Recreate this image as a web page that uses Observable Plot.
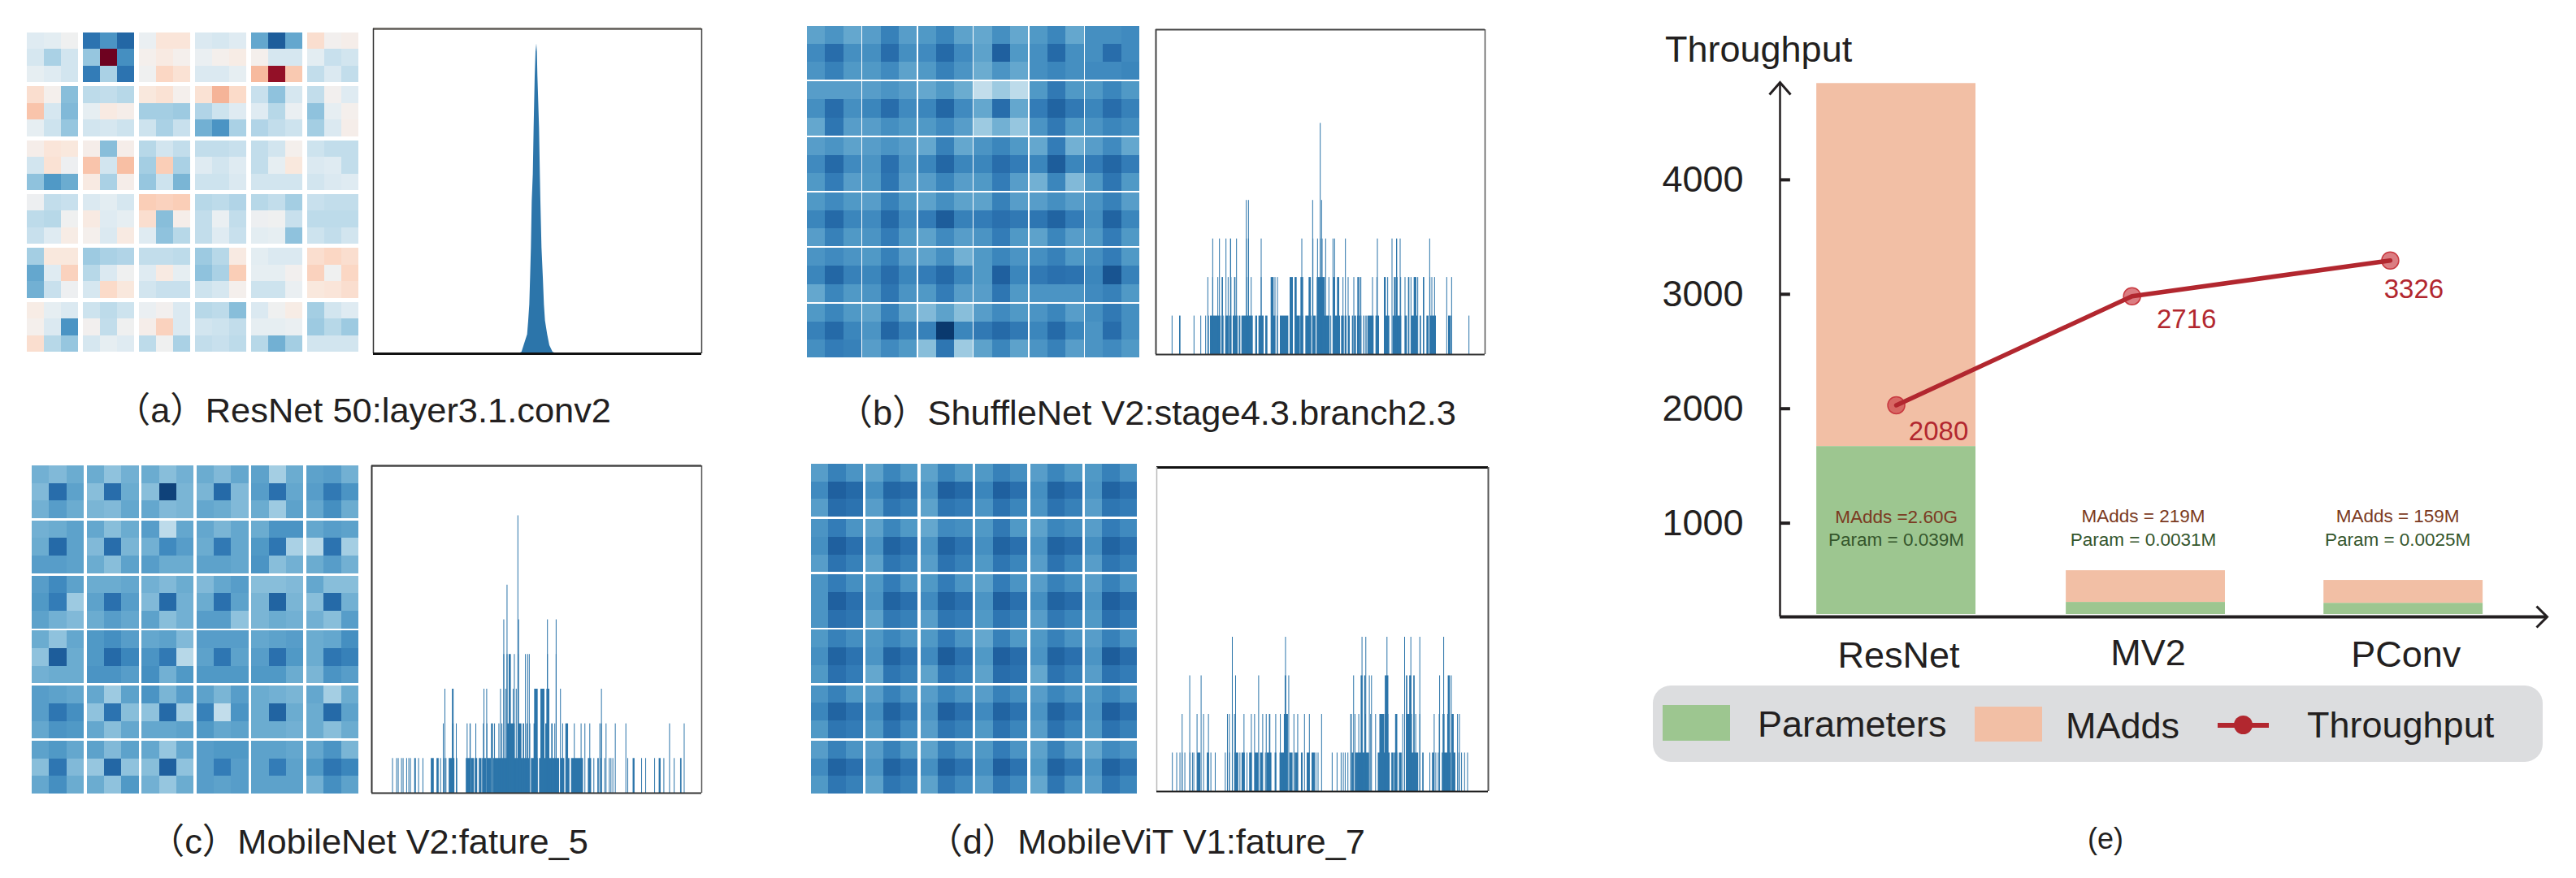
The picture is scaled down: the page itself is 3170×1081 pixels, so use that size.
<!DOCTYPE html>
<html>
<head>
<meta charset="utf-8">
<script src="https://cdn.jsdelivr.net/npm/d3@7"></script>
<script src="https://cdn.jsdelivr.net/npm/@observablehq/plot@0.6"></script>
<style>
html,body{margin:0;padding:0;background:#fff;}
#page{position:relative;width:3170px;height:1081px;overflow:hidden;font-family:"Liberation Sans","Noto Sans CJK SC",sans-serif;color:#231f20;}
#page>div{position:absolute;white-space:nowrap;}
.cap{font-size:43.4px;line-height:1;}
</style>
</head>
<body>
<div id="page"></div>
<script>
// ---------- heatmap values (0 = red, 50 = neutral, 100 = blue) ----------
const heatA = [
[56,55,51,88,80,92,53,44,44,57,58,56,76,95,76,42,50,48],
[58,66,59,69,1,81,49,46,49,53,49,47,49,58,58,55,61,59],
[54,56,59,85,66,88,51,40,43,57,57,54,34,6,37,62,57,62],
[42,49,71,63,62,64,45,43,49,43,33,41,61,70,58,62,50,56],
[36,58,72,54,46,48,67,67,68,65,60,56,56,64,53,70,54,49],
[54,60,69,59,58,60,60,66,61,74,80,66,65,62,60,67,57,48],
[48,44,45,48,71,48,64,59,62,62,62,61,62,59,49,60,62,62],
[59,43,52,36,59,35,67,38,66,56,59,56,62,54,45,57,56,62],
[70,79,75,46,66,48,69,60,73,60,60,57,59,59,59,59,57,56],
[52,62,61,57,55,58,38,39,38,64,63,65,64,62,67,61,62,62],
[63,64,51,46,56,54,42,71,48,62,53,62,52,51,61,63,63,63],
[61,56,47,49,57,46,56,70,64,62,56,61,55,54,70,60,62,59],
[67,45,45,68,66,65,62,62,63,68,64,46,55,57,57,42,40,42],
[76,56,39,64,57,51,56,46,54,70,66,38,54,54,50,39,51,40],
[74,61,52,58,41,45,59,61,61,60,58,49,60,60,53,45,44,42],
[47,54,57,60,63,60,53,50,57,64,63,71,57,51,47,67,59,56],
[49,57,80,50,62,51,48,39,57,59,60,62,54,54,53,68,64,68],
[42,64,69,58,54,56,63,51,66,62,61,63,64,74,67,59,59,59]];
const heatB = [
[77,80,76,78,84,78,79,83,77,76,81,76,79,83,76,81,81,82],
[82,90,81,81,90,81,82,91,82,77,94,79,81,91,81,81,90,82],
[80,84,79,79,82,77,79,84,80,75,80,76,81,83,81,82,82,83],
[78,78,78,78,80,78,76,79,75,62,68,63,79,86,79,79,83,79],
[81,90,81,83,90,82,83,92,82,76,90,76,85,93,86,83,90,84],
[76,87,78,78,81,79,79,82,78,68,74,69,80,86,79,80,83,81],
[78,80,77,78,80,78,76,84,76,80,83,79,76,85,74,78,82,76],
[82,91,82,80,89,80,83,92,83,83,90,85,83,95,83,85,92,85],
[79,85,78,79,87,78,78,83,78,79,85,78,74,83,72,79,87,79],
[79,82,79,78,84,79,77,81,77,77,84,78,78,81,78,80,84,78],
[83,91,83,82,91,82,85,95,84,85,89,86,87,93,85,81,93,83],
[78,84,79,80,85,79,77,82,78,80,85,79,77,83,78,79,85,79],
[80,82,80,79,84,78,77,81,74,79,83,80,81,84,79,81,85,79],
[83,92,84,83,90,83,85,91,83,79,94,83,86,89,88,83,96,84],
[76,83,79,80,87,80,79,85,78,78,87,79,80,80,80,82,84,79],
[79,83,79,77,84,77,72,77,71,78,82,79,80,83,78,81,86,81],
[84,91,83,80,92,84,84,99,83,86,91,86,83,91,83,80,90,81],
[81,85,84,78,82,79,71,87,68,77,83,77,80,84,78,80,82,79]];
const heatC = [
[74,72,75,75,70,74,75,71,74,75,72,76,77,67,75,77,78,74],
[72,90,77,71,90,75,71,98,73,73,91,72,78,89,76,78,86,80],
[74,78,75,73,72,76,76,72,73,76,75,72,75,68,77,76,81,75],
[74,75,77,76,71,75,78,63,76,76,73,76,75,80,80,76,78,77],
[75,91,77,72,90,73,74,82,78,75,86,76,79,87,66,64,88,67],
[78,78,77,75,71,77,78,75,75,77,77,76,80,71,74,75,78,74],
[78,82,77,75,75,76,74,72,75,72,76,78,71,71,72,76,71,71],
[79,85,68,77,89,78,72,91,74,75,89,77,73,93,73,71,91,74],
[77,74,72,75,78,76,77,71,74,78,78,70,73,75,74,74,71,78],
[75,70,76,79,81,78,76,77,72,78,78,78,76,77,78,75,76,81],
[70,95,75,79,91,83,80,86,64,77,87,77,78,89,79,75,87,84],
[74,75,75,80,80,78,81,74,79,79,79,79,79,79,75,73,80,78],
[78,77,76,76,68,77,80,73,78,77,73,78,75,74,73,76,67,75],
[78,87,81,70,88,71,70,91,67,84,62,80,75,93,75,75,91,77],
[76,80,79,76,71,76,76,76,77,79,76,77,75,75,74,75,71,75],
[77,79,76,77,72,77,76,69,76,78,79,79,77,77,76,76,80,73],
[71,87,72,69,92,70,71,94,70,78,85,78,77,85,77,79,87,83],
[76,81,75,75,70,79,74,69,75,78,77,78,77,77,77,74,81,77]];
const heatD = [
[78,84,80,77,83,79,77,83,79,79,84,81,78,83,79,79,84,80],
[82,94,91,81,92,90,80,94,91,83,94,89,81,93,89,80,93,89],
[78,90,88,78,87,84,77,87,85,80,88,83,80,88,84,78,87,85],
[80,85,80,77,83,79,76,82,81,79,86,79,77,83,81,78,85,82],
[81,94,89,80,93,89,80,93,88,81,93,89,80,93,90,81,93,89],
[78,88,84,77,87,84,78,88,84,79,87,83,78,88,83,78,87,84],
[80,85,81,79,85,80,79,85,80,77,85,80,78,84,81,78,84,80],
[80,94,89,80,93,89,82,93,89,80,94,89,81,93,90,80,94,90],
[80,89,87,77,86,84,78,87,85,79,87,84,78,86,83,79,89,85],
[79,84,81,79,83,80,79,85,80,76,84,79,79,84,80,78,84,80],
[81,93,88,80,93,88,82,95,88,79,94,90,80,93,89,80,95,90],
[79,89,85,76,87,84,77,87,84,77,90,88,76,88,84,78,88,85],
[80,84,79,78,84,80,78,83,80,78,84,81,78,83,80,79,83,80],
[83,93,88,81,93,87,80,94,89,82,93,88,80,93,87,80,94,89],
[79,87,85,79,88,82,78,87,84,79,88,83,78,88,83,79,88,84],
[78,84,80,78,84,79,77,84,80,79,85,80,77,84,78,76,82,80],
[82,93,89,80,93,88,81,93,88,81,94,88,79,93,87,80,93,88],
[79,87,84,77,87,84,77,86,82,78,86,82,76,87,80,78,87,83]];

// ---------- histogram (a): bin position and count ----------
const histABins   = [112,125,133,146,150,154,157,160,163,167,170,174,177,180,182,184,190,193,195,199,204,208,212,220,228,240,255];
const histACounts = [0,5,30,70,120,180,280,390,560,660,830,1020,1110,1141,1110,1020,830,660,560,390,280,180,120,70,30,5,0];

// ---------- histogram bins reaching each count: a number is one bin, a pair is a run of bins ----------
const bCount1 = [66,[92,97],147,172,190,[198,202],[206,245],[248,256],[262,274],[276,285],[290,308],[312,318],[322,364],[373,380],[385,404],[410,418],[431,447],[452,456],[464,495],[500,510],[518,538],[540,550],[558,580],[585,596],[600,648],652,[660,686],[690,700],[703,710],[716,722],[730,735],[738,745],[749,760],[762,765],[772,776],[780,784],[787,810],[817,830],[852,868],[880,893],[896,912],[925,933],[948,960],[966,972],[980,985],[1005,1013],[1018,1040],[1085,1095],1098,1162];
const bCount2 = [198,216,235,[249,254],273,[281,285],[295,300],340,348,358,395,[430,441],446,455,[500,512],[518,526],[540,550],[570,578],585,[600,630],645,[660,668],[675,683],697,716,737,[750,755],758,763,806,822,[848,855],862,[885,892],897,910,926,[937,942],948,[958,968],973,[992,997],1018,1025,1035,1080,1098];
const bCount3 = [216,241,265,[280,284],304,340,348,395,545,586,603,613,620,633,660,666,706,824,878,[893,897],908,1017];
const bCount4 = [340,348,585,618];
const bCount6 = [613];

const cCount1 = [100,115,121,133,139,152,160,166,[180,186],196,212,[241,252],[262,270],277,[286,290],297,[307,328],337,[370,385],[388,400],[403,412],[418,428],[430,445],[447,463],[470,605],[610,635],[640,650],[655,714],[718,733],[738,752],[758,802],[820,832],842,[855,860],868,882,899,905,912,967,[985,992],1018,1033,1066,[1081,1088],1100,1138,[1160,1165]];
const cCount2 = [287,[320,325],335,375,[384,388],407,435,448,[463,470],476,492,503,[522,550],[562,575],[580,585],595,606,[620,628],[663,670],[685,690],698,727,[737,747],770,795,809,827,864,870,887,921,960,1121,1175];
const cCount3 = [293,[319,325],437,447,498,517,545,556,[622,635],[645,660],[667,678],719,870];
const cCount4 = [510,522,[528,536],549,563,590,598,604,671,703];
const cCount5 = [510,[562,566],671,703];
const cCount6 = [522];
const cCount8 = [562];

const dCount1 = [69,85,97,105,115,134,143,148,[160,172],[196,204],211,227,264,272,279,290,[298,312],318,[324,336],344,[352,362],[372,386],[392,402],412,[416,434],[446,452],[464,490],[500,512],[520,532],[543,549],[564,575],[582,594],598,606,658,676,691,699,706,716,[730,737],[744,794],[826,840],[846,870],[876,884],[886,898],[904,914],[930,975],[990,995],1018,[1026,1034],1040,1049,[1062,1095],[1100,1112],1125,1135,1146,1157];
const dCount2 = [105,160,184,202,272,279,290,298,333,360,372,402,415,[425,430],450,467,[480,495],517,531,556,574,619,[725,730],742,756,[778,782],800,818,[832,850],[852,865],[890,898],918,[930,952],966,981,1034,[1051,1054],[1065,1072],[1082,1088],[1098,1106],1120,1127];
const dCount3 = [133,175,290,302,387,[483,488],498,737,[763,770],[776,781],795,803,[852,865],925,[930,935],[942,950],[957,962],1054,[1084,1092],1097];
const dCount4 = [290,486,768,782,860,925,948,981,1069];

// ---------- bar and line chart (e) ----------
const models      = ["ResNet","MV2","PConv"];
const barBase     = 202;
const paramTops   = [1670,308,300];
const maddTops    = [4842,585,500];
const linePoints  = [2030,2983,3295];
const lineLabels  = ["2080","2716","3326"];
const maddNotes   = ["MAdds =2.60G","MAdds = 219M","MAdds = 159M"];
const paramNotes  = ["Param = 0.039M","Param = 0.0031M","Param = 0.0025M"];
const yTickValues = [1000,2000,3000,4000];
const legendNames = ["Parameters","MAdds","Throughput"];

const colorParam = "#9dc690", colorMadd = "#f2bfa5", colorLine = "#b2272f", ink = "#231f20";
const page = document.getElementById("page");
const FONT = '"Liberation Sans","Noto Sans CJK SC",sans-serif';

function place(node, left, top) {
  const box = document.createElement("div");
  box.style.left = left + "px"; box.style.top = top + "px";
  box.appendChild(node); page.appendChild(box);
}
function label(text, opts) {
  const el = document.createElement("div");
  el.textContent = text;
  Object.assign(el.style, opts);
  page.appendChild(el);
  return el;
}
// The reference's dark blues stay softer than a plain RdBu ramp until the very top.
function softRdBu(t) {
  const u = t <= 0.85 ? t : t <= 0.95 ? 0.85 + (t - 0.85) * 0.65 : 0.915 + (t - 0.95) * 1.7;
  return d3.interpolateRdBu(u);
}
function heatmap(rows, left, top, width, height, gapX, gapY) {
  const cells = rows.flatMap((row, i) => row.map((v, j) => ({
    v, x: j + Math.floor(j / 3) * gapX, y: i + Math.floor(i / 3) * gapY
  })));
  place(Plot.plot({
    width, height, margin: 0,
    style: {background: "transparent"},
    x: {axis: null, domain: [0, 18 + 5 * gapX]},
    y: {axis: null, domain: [18 + 5 * gapY, 0]},
    color: {type: "linear", domain: [0, 100], interpolate: softRdBu},
    marks: [Plot.rect(cells, {x1: "x", x2: d => d.x + 1, y1: "y", y2: d => d.y + 1, fill: "v", shapeRendering: "crispEdges"})]
  }), left, top);
}
function bars(levels) {
  return levels.flatMap(([count, list]) => list.map(s => Array.isArray(s)
    ? {x1: s[0], x2: s[1], count}
    : {x1: s - 1.5, x2: s + 1.5, count}));
}
function frameMarks(domainX, yTop, f) {
  return [
    Plot.ruleY([yTop], {stroke: f.top[0], strokeWidth: f.top[1]}),
    Plot.ruleX([domainX[1]], {stroke: f.right[0], strokeWidth: f.right[1]}),
    Plot.ruleX([domainX[0]], {stroke: f.left[0], strokeWidth: f.left[1]}),
    Plot.ruleY([0], {stroke: f.bottom[0], strokeWidth: f.bottom[1]})
  ];
}
function histogram(levels, domainX, yTop, left, top, width, height, f) {
  place(Plot.plot({
    width, height, margin: 0,
    style: {background: "transparent", overflow: "visible"},
    x: {axis: null, domain: domainX},
    y: {axis: null, domain: [0, yTop]},
    marks: [
      Plot.rect(bars(levels), {x1: "x1", x2: "x2", y1: 0, y2: "count", fill: "#2c75aa"}),
      ...frameMarks(domainX, yTop, f)
    ]
  }), left, top);
}

// Panel (a)
heatmap(heatA, 33, 40, 408, 393, 0.26, 0.245);
place(Plot.plot({
  width: 404, height: 400, margin: 0,
  style: {background: "transparent", overflow: "visible"},
  x: {axis: null, domain: [-423, 789]},
  y: {axis: null, domain: [0, 1196]},
  marks: [
    Plot.areaY(histABins.map((x, i) => ({x, c: histACounts[i]})), {x: "x", y: "c", fill: "#2c75aa"}),
    ...frameMarks([-423, 789], 1196, {top: ["#5e5a55", 2.5], right: ["#444", 1.5], left: ["#333", 1.5], bottom: ["#111", 3]})
  ]
}), 459, 35);

// Panel (b)
heatmap(heatB, 993, 32, 409, 408, 0.07, 0.09);
histogram([[1, bCount1], [2, bCount2], [3, bCount3], [4, bCount4], [6, bCount6]], [5, 1220], 8.43, 1422, 36, 405, 400,
  {top: ["#444", 2], right: ["#555", 1.5], left: ["#444", 2], bottom: ["#333", 2]});

// Panel (c)
heatmap(heatC, 39, 573, 402, 404, 0.14, 0.115);
histogram([[1, cCount1], [2, cCount2], [3, cCount3], [4, cCount4], [5, cCount5], [6, cCount6], [8, cCount8]], [22, 1238], 9.44, 457, 573, 406, 403,
  {top: ["#444", 2.5], right: ["#555", 1.5], left: ["#333", 2], bottom: ["#333", 2]});

// Panel (d)
heatmap(heatD, 998, 571, 401, 406, 0.17, 0.135);
histogram([[1, dCount1], [2, dCount2], [3, dCount3], [4, dCount4]], [10, 1232], 8.4, 1423, 575, 408, 399,
  {top: ["#111", 3], right: ["#555", 2], left: ["#bbb", 1.5], bottom: ["#222", 2]});

// Captions
const captions = [
  ["（a）ResNet 50:layer3.1.conv2", 752, 484],
  ["（b）ShuffleNet V2:stage4.3.branch2.3", 1792, 487],
  ["（c）MobileNet V2:fature_5", 724, 1015],
  ["（d）MobileViT V1:fature_7", 1680, 1015]
];
for (const [t, right, top] of captions) {
  const el = label(t, {right: (3170 - right) + "px", top: top + "px"});
  el.className = "cap";
}
label("(e)", {left: "2569px", top: "1015px", fontSize: "36px", lineHeight: "1"});
label("Throughput", {left: "2049px", top: "38px", fontSize: "45px", lineHeight: "1"});

// Panel (e) chart
const barCentres = [0, 1, 2.033];
const pointX = [0, 0.945, 1.98];
const noteX = [0, 0.99, 2.01];
const maddNoteY = [1050, 1062, 1062];
const nameRaise = [0, 21, 7];
const half = 0.319;
const xMin = -0.466, xMax = 2.609, yMin = 181, yMax = 4851;
const rows = models.map((name, i) => ({
  name, cx: barCentres[i], px: pointX[i], nx: noteX[i], my: maddNoteY[i], ny: yMin + nameRaise[i],
  param: paramTops[i], madd: maddTops[i],
  point: linePoints[i], label: lineLabels[i], maddNote: maddNotes[i], paramNote: paramNotes[i]
}));
function chevron(dx1, dy1, dx2, dy2) {
  return {draw(c) { c.moveTo(dx1, dy1); c.lineTo(0, 0); c.lineTo(dx2, dy2); }};
}
place(Plot.plot({
  width: 1140, height: 779,
  marginLeft: 190, marginRight: 6, marginTop: 21, marginBottom: 100,
  style: {background: "transparent", overflow: "visible", fontFamily: FONT},
  x: {axis: null, domain: [xMin, xMax]},
  y: {axis: null, domain: [yMin, yMax]},
  marks: [
    Plot.rect(rows, {x1: d => d.cx - half, x2: d => d.cx + half, y1: "param", y2: "madd", fill: colorMadd}),
    Plot.rect(rows, {x1: d => d.cx - half, x2: d => d.cx + half, y1: barBase, y2: "param", fill: colorParam}),
    Plot.dot(rows, {x: "px", y: "point", r: 10.5, fill: "#c8383f", fillOpacity: 0.65, stroke: "#c8383f", strokeWidth: 1.5}),
    Plot.line(rows, {x: "px", y: "point", stroke: colorLine, strokeWidth: 5.5}),
    Plot.text(rows.slice(0, 1), {x: "px", y: "point", text: "label", dx: 52, dy: 32, fontSize: 33, fill: colorLine}),
    Plot.text(rows.slice(1, 2), {x: "px", y: "point", text: "label", dx: 67, dy: 29, fontSize: 33, fill: colorLine}),
    Plot.text(rows.slice(2, 3), {x: "px", y: "point", text: "label", dx: 29, dy: 36, fontSize: 33, fill: colorLine}),
    Plot.text(rows, {x: "nx", y: "my", text: "maddNote", fontSize: 22.5, fill: "#7b3a22"}),
    Plot.text(rows, {x: "nx", y: 853, text: "paramNote", fontSize: 22.5, fill: "#35562c"}),
    Plot.axisY({ticks: yTickValues, tickFormat: "d", tickSize: 0, tickPadding: 45, label: null, fontSize: 45, color: ink, textAnchor: "end"}),
    Plot.ruleY(yTickValues, {x1: xMin, x2: xMin + 0.042, stroke: ink, strokeWidth: 4}),
    Plot.ruleX([xMin], {y1: yMin, y2: yMax, stroke: ink, strokeWidth: 2.5}),
    Plot.ruleY([yMin], {x1: xMin, x2: xMax, stroke: ink, strokeWidth: 4}),
    Plot.dot([0], {x: xMin, y: yMax, r: 1, symbol: chevron(-13, 15, 13, 15), stroke: ink, strokeWidth: 3, fill: "none"}),
    Plot.dot([0], {x: xMax, y: yMin, r: 1, symbol: chevron(-13, -13, -13, 13), stroke: ink, strokeWidth: 3, fill: "none"}),
    Plot.text(rows, {x: "cx", y: "ny", text: "name", dx: 3, dy: 48, fontSize: 45, fill: ink})
  ]
}), 2000, 80);

// Legend
label("", {left: "2034px", top: "844px", width: "1095px", height: "94px", background: "#dcdddf", borderRadius: "22px"});
label("", {left: "2046px", top: "868px", width: "83px", height: "44px", background: colorParam});
label("", {left: "2430px", top: "870px", width: "83px", height: "43px", background: colorMadd});
label("", {left: "2729px", top: "890px", width: "63px", height: "6px", background: colorLine});
label("", {left: "2749px", top: "881px", width: "23px", height: "23px", background: colorLine, borderRadius: "50%"});
label(legendNames[0], {left: "2163px", top: "869px", fontSize: "45px", lineHeight: "1"});
label(legendNames[1], {left: "2542px", top: "871px", fontSize: "45px", lineHeight: "1"});
label(legendNames[2], {left: "2839px", top: "870px", fontSize: "45px", lineHeight: "1"});
</script>
</body>
</html>
